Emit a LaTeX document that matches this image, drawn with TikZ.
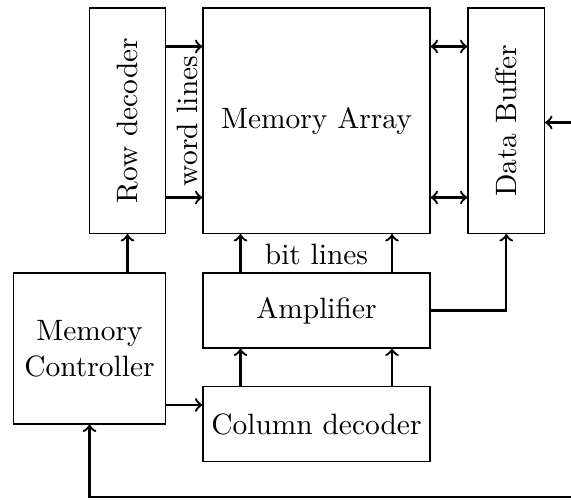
\documentclass[tikz,border=0pt]{standalone}
\begin{document}
\begin{tikzpicture}[x=0.35pt,y=-0.35pt,
  blk/.style={draw,line width=0.4pt,inner sep=0pt,align=center,font=\fontsize{10.3}{12.5}\selectfont},
  conn/.style={thick,->},
  biconn/.style={thick,<->},
  lbl/.style={inner sep=0pt,font=\fontsize{10.3}{12.5}\selectfont}]
\useasboundingbox (0,0) rectangle (571,500);
\node[blk,minimum width=76*0.35pt,minimum height=225.5*0.35pt] (RD) at (127.5,120.75) {};
\node[lbl,rotate=90] at (RD.center) {Row decoder};
\node[blk,minimum width=227*0.35pt,minimum height=225.5*0.35pt] (MA) at (316.5,120.75) {Memory Array};
\node[blk,minimum width=76.5*0.35pt,minimum height=225.5*0.35pt] (DB) at (506.25,120.75) {};
\node[lbl,rotate=90] at (DB.center) {Data Buffer};
\node[blk,minimum width=152*0.35pt,minimum height=151*0.35pt] (MC) at (89.5,348.5) {Memory\\Controller};
\node[blk,minimum width=227*0.35pt,minimum height=75*0.35pt] (AMP) at (316.5,310.5) {Amplifier};
\node[blk,minimum width=227*0.35pt,minimum height=75*0.35pt] (CD) at (316.5,424) {Column decoder};
% word lines
\draw[conn] (RD.east |- 0,46.5) -- (MA.west |- 0,46.5);
\draw[conn] (RD.east |- 0,197.5) -- (MA.west |- 0,197.5);
\node[lbl,rotate=90] (WL) at (187,121) {word lines};
% data buffer
\draw[biconn] (MA.east |- 0,46.5) -- (DB.west |- 0,46.5);
\draw[biconn] (MA.east |- 0,197.5) -- (DB.west |- 0,197.5);
\coordinate (EXT) at (571,122.5);
\draw[conn] (EXT) -- (DB.east |- EXT);
% controller to row decoder
\draw[conn] (MC.north -| RD.south) -- (RD.south);
% bit lines
\draw[conn] (AMP.north -| 240.5,0) -- (MA.south -| 240.5,0);
\draw[conn] (AMP.north -| 392,0) -- (MA.south -| 392,0);
\node[lbl] (BL) at (316.5,254) {bit lines};
% column decoder to amplifier
\draw[conn] (CD.north -| 240.5,0) -- (AMP.south -| 240.5,0);
\draw[conn] (CD.north -| 392,0) -- (AMP.south -| 392,0);
% controller to column decoder
\draw[conn] (MC.east |- 0,405) -- (CD.west |- 0,405);
% amplifier to data buffer
\draw[conn] (AMP.east) -| (DB.south);
% bottom feedback
\coordinate (BOT) at (571,497);
\draw[conn] (BOT) -| (MC.south);
\end{tikzpicture}
\end{document}
